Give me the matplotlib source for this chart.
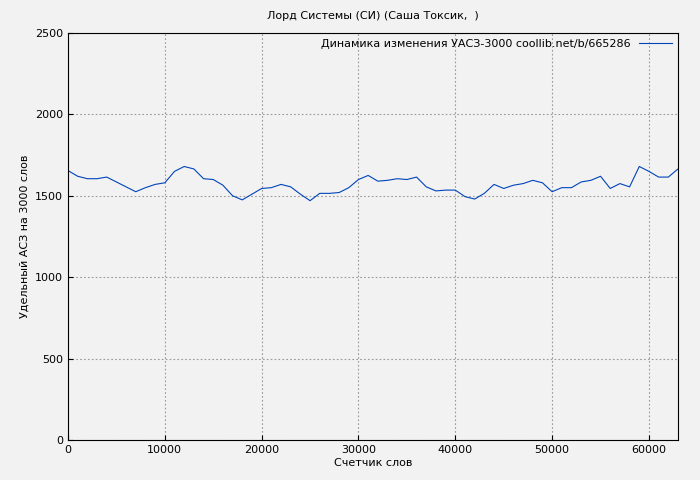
import matplotlib
matplotlib.use("Agg")
import matplotlib.pyplot as plt

words = list(range(0, 63001, 1000))
values = [1655,1620,1605,1605,1615,1585,1555,1525,1550,1570,1580,1650,1680,1665,1605,1600,1565,1500,1475,1510,
          1545,1550,1570,1555,1510,1470,1515,1515,1520,1550,1600,1625,1590,1595,1605,1600,1615,1555,1530,1535,
          1535,1495,1480,1515,1570,1545,1565,1575,1595,1580,1525,1550,1550,1585,1595,1620,1545,1575,1555,1680,
          1650,1615,1615,1665]

fig = plt.figure(figsize=(7, 4.8), dpi=100, facecolor='#f2f2f2')
ax = fig.add_axes([68/700, 40/480, 610/700, 407/480], facecolor='#f2f2f2')
ax.plot(words, values, color='#0044bb', lw=0.8, label='Динамика изменения УАСЗ-3000 coollib.net/b/665286')
ax.set_xlim(0, 63000)
ax.set_ylim(0, 2500)
ax.set_xticks(range(0, 60001, 10000))
ax.set_yticks(range(0, 2501, 500))
ax.grid(True, ls=(0, (1.5, 2)), color='#999999', lw=0.8)
ax.tick_params(labelsize=8, direction='in')
ax.set_xlabel('Счетчик слов', fontsize=8, labelpad=2)
ax.set_ylabel('Удельный АСЗ на 3000 слов', fontsize=8)
ax.set_title('Лорд Системы (СИ) (Саша Токсик,  )', fontsize=8, pad=10)
leg = ax.legend(loc='upper right', fontsize=8, frameon=False, markerfirst=False, handlelength=3,
                borderaxespad=0.1)
fig.savefig('out.png', dpi=100, facecolor=fig.get_facecolor())
